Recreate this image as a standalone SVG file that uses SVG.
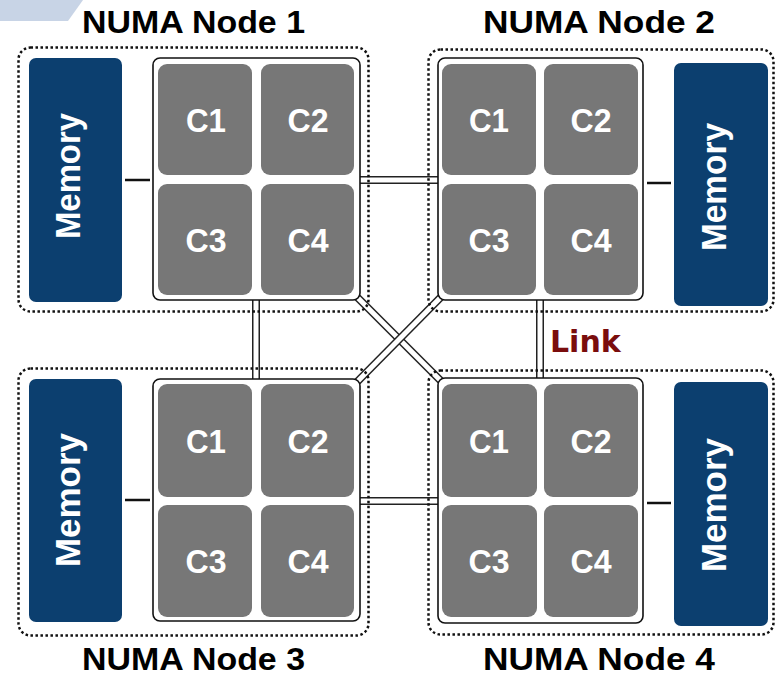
<svg xmlns="http://www.w3.org/2000/svg" width="777" height="676" viewBox="0 0 777 676">
  <style>
    .title { font-family: "Liberation Sans", Arial, sans-serif; font-weight: bold; font-size: 32px; fill: #000; text-anchor: middle; }
    .zone { fill: none; stroke: #111; stroke-width: 2.5; stroke-dasharray: 2.5 2.5; }
    .chip { fill: #fff; stroke: #111; stroke-width: 1.6; }
    .core { fill: #777; }
    .core-label { font-family: "Liberation Sans", Arial, sans-serif; font-weight: bold; font-size: 34px; fill: #fff; text-anchor: middle; }
    .mem { fill: #0c3f6f; }
    .mem-label { font-family: "Liberation Sans", Arial, sans-serif; font-weight: bold; font-size: 35px; fill: #fff; text-anchor: middle; }
    .bus { stroke: #111; stroke-width: 2.5; }
    .link-outer { stroke: #222; stroke-width: 8; fill: none; }
    .link-inner { stroke: #fff; stroke-width: 5; fill: none; }
    .link-label { font-family: "DejaVu Sans", Verdana, sans-serif; font-weight: bold; font-size: 30px; fill: #7a0d0d; }
  </style>

  <!-- corner tab -->
  <polygon points="0,0 83,0 68,21 0,21" fill="#c8d4e6"/>

  <!-- interconnect links between the processor packages -->
  <g id="connectors">
    <line class="link-outer" x1="350" y1="180" x2="448" y2="180"/>
    <line class="link-inner" x1="350" y1="180" x2="448" y2="180"/>
    <line class="link-outer" x1="350" y1="501" x2="448" y2="501"/>
    <line class="link-inner" x1="350" y1="501" x2="448" y2="501"/>
    <line class="link-outer" x1="256" y1="290" x2="256" y2="389"/>
    <line class="link-inner" x1="256" y1="290" x2="256" y2="389"/>
    <line class="link-outer" x1="540" y1="290" x2="540" y2="388"/>
    <line class="link-inner" x1="540" y1="290" x2="540" y2="388"/>
    <line class="link-outer" x1="354" y1="294" x2="444" y2="384"/>
    <line class="link-inner" x1="354" y1="294" x2="444" y2="384"/>
    <line class="link-outer" x1="444" y1="294" x2="354" y2="385"/>
    <line class="link-inner" x1="444" y1="294" x2="354" y2="385"/>
  </g>

  <!-- NUMA Node 1 -->
  <g id="node1">
    <text class="title" x="193.5" y="33" textLength="223" lengthAdjust="spacingAndGlyphs">NUMA Node 1</text>
    <rect class="zone" x="18.5" y="47.5" width="350" height="264" rx="12"/>
    <rect class="mem" x="29" y="58" width="93" height="244" rx="7"/>
    <text class="mem-label" transform="translate(80,176) rotate(-90)" textLength="126" lengthAdjust="spacingAndGlyphs">Memory</text>
    <line class="bus" x1="125" y1="180" x2="150" y2="180"/>
    <rect class="chip" x="153" y="58" width="207" height="242" rx="7"/>
    <rect class="core" x="158" y="64" width="94" height="111" rx="9"/>
    <rect class="core" x="261" y="64" width="93" height="111" rx="9"/>
    <rect class="core" x="158" y="184" width="94" height="111" rx="9"/>
    <rect class="core" x="261" y="184" width="93" height="111" rx="9"/>
    <text class="core-label" x="206" y="132" textLength="40" lengthAdjust="spacingAndGlyphs">C1</text>
    <text class="core-label" x="308" y="132" textLength="41" lengthAdjust="spacingAndGlyphs">C2</text>
    <text class="core-label" x="206" y="252" textLength="41" lengthAdjust="spacingAndGlyphs">C3</text>
    <text class="core-label" x="308" y="252" textLength="41" lengthAdjust="spacingAndGlyphs">C4</text>
  </g>

  <!-- NUMA Node 2 -->
  <g id="node2">
    <text class="title" x="599" y="33" textLength="232" lengthAdjust="spacingAndGlyphs">NUMA Node 2</text>
    <rect class="zone" x="428.5" y="49.5" width="345" height="262" rx="12"/>
    <rect class="chip" x="438" y="58" width="205" height="242" rx="7"/>
    <rect class="core" x="442" y="64" width="94" height="111" rx="9"/>
    <rect class="core" x="544" y="64" width="94" height="111" rx="9"/>
    <rect class="core" x="442" y="184" width="94" height="111" rx="9"/>
    <rect class="core" x="544" y="184" width="94" height="111" rx="9"/>
    <text class="core-label" x="489" y="132" textLength="40" lengthAdjust="spacingAndGlyphs">C1</text>
    <text class="core-label" x="591" y="132" textLength="41" lengthAdjust="spacingAndGlyphs">C2</text>
    <text class="core-label" x="489" y="252" textLength="41" lengthAdjust="spacingAndGlyphs">C3</text>
    <text class="core-label" x="591" y="252" textLength="41" lengthAdjust="spacingAndGlyphs">C4</text>
    <line class="bus" x1="647" y1="183" x2="671" y2="183"/>
    <rect class="mem" x="674" y="63" width="94" height="243" rx="7"/>
    <text class="mem-label" transform="translate(726,187) rotate(-90)" textLength="128" lengthAdjust="spacingAndGlyphs">Memory</text>
  </g>

  <!-- NUMA Node 3 -->
  <g id="node3">
    <rect class="zone" x="18.5" y="368.5" width="350" height="267" rx="12"/>
    <rect class="mem" x="29" y="379" width="93" height="243" rx="7"/>
    <text class="mem-label" transform="translate(80,500) rotate(-90)" textLength="134" lengthAdjust="spacingAndGlyphs">Memory</text>
    <line class="bus" x1="125" y1="500" x2="150" y2="500"/>
    <rect class="chip" x="153" y="379" width="207" height="242" rx="7"/>
    <rect class="core" x="158" y="384" width="94" height="113" rx="9"/>
    <rect class="core" x="261" y="384" width="93" height="113" rx="9"/>
    <rect class="core" x="158" y="505" width="94" height="112" rx="9"/>
    <rect class="core" x="261" y="505" width="93" height="112" rx="9"/>
    <text class="core-label" x="206" y="453" textLength="40" lengthAdjust="spacingAndGlyphs">C1</text>
    <text class="core-label" x="308" y="453" textLength="41" lengthAdjust="spacingAndGlyphs">C2</text>
    <text class="core-label" x="206" y="573" textLength="41" lengthAdjust="spacingAndGlyphs">C3</text>
    <text class="core-label" x="308" y="573" textLength="41" lengthAdjust="spacingAndGlyphs">C4</text>
    <text class="title" x="193.5" y="670" textLength="223" lengthAdjust="spacingAndGlyphs">NUMA Node 3</text>
  </g>

  <!-- NUMA Node 4 -->
  <g id="node4">
    <rect class="zone" x="428.5" y="370.5" width="345" height="264" rx="12"/>
    <rect class="chip" x="438" y="378" width="205" height="245" rx="7"/>
    <rect class="core" x="442" y="384" width="95" height="113" rx="9"/>
    <rect class="core" x="544" y="384" width="94" height="113" rx="9"/>
    <rect class="core" x="442" y="505" width="95" height="112" rx="9"/>
    <rect class="core" x="544" y="505" width="94" height="112" rx="9"/>
    <text class="core-label" x="489" y="453" textLength="40" lengthAdjust="spacingAndGlyphs">C1</text>
    <text class="core-label" x="591" y="453" textLength="41" lengthAdjust="spacingAndGlyphs">C2</text>
    <text class="core-label" x="489" y="573" textLength="41" lengthAdjust="spacingAndGlyphs">C3</text>
    <text class="core-label" x="591" y="573" textLength="41" lengthAdjust="spacingAndGlyphs">C4</text>
    <line class="bus" x1="647" y1="503" x2="671" y2="503"/>
    <rect class="mem" x="674" y="382" width="94" height="244" rx="7"/>
    <text class="mem-label" transform="translate(726,505) rotate(-90)" textLength="134" lengthAdjust="spacingAndGlyphs">Memory</text>
    <text class="title" x="599" y="670" textLength="232" lengthAdjust="spacingAndGlyphs">NUMA Node 4</text>
  </g>

  <text class="link-label" x="550" y="352">Link</text>
</svg>
